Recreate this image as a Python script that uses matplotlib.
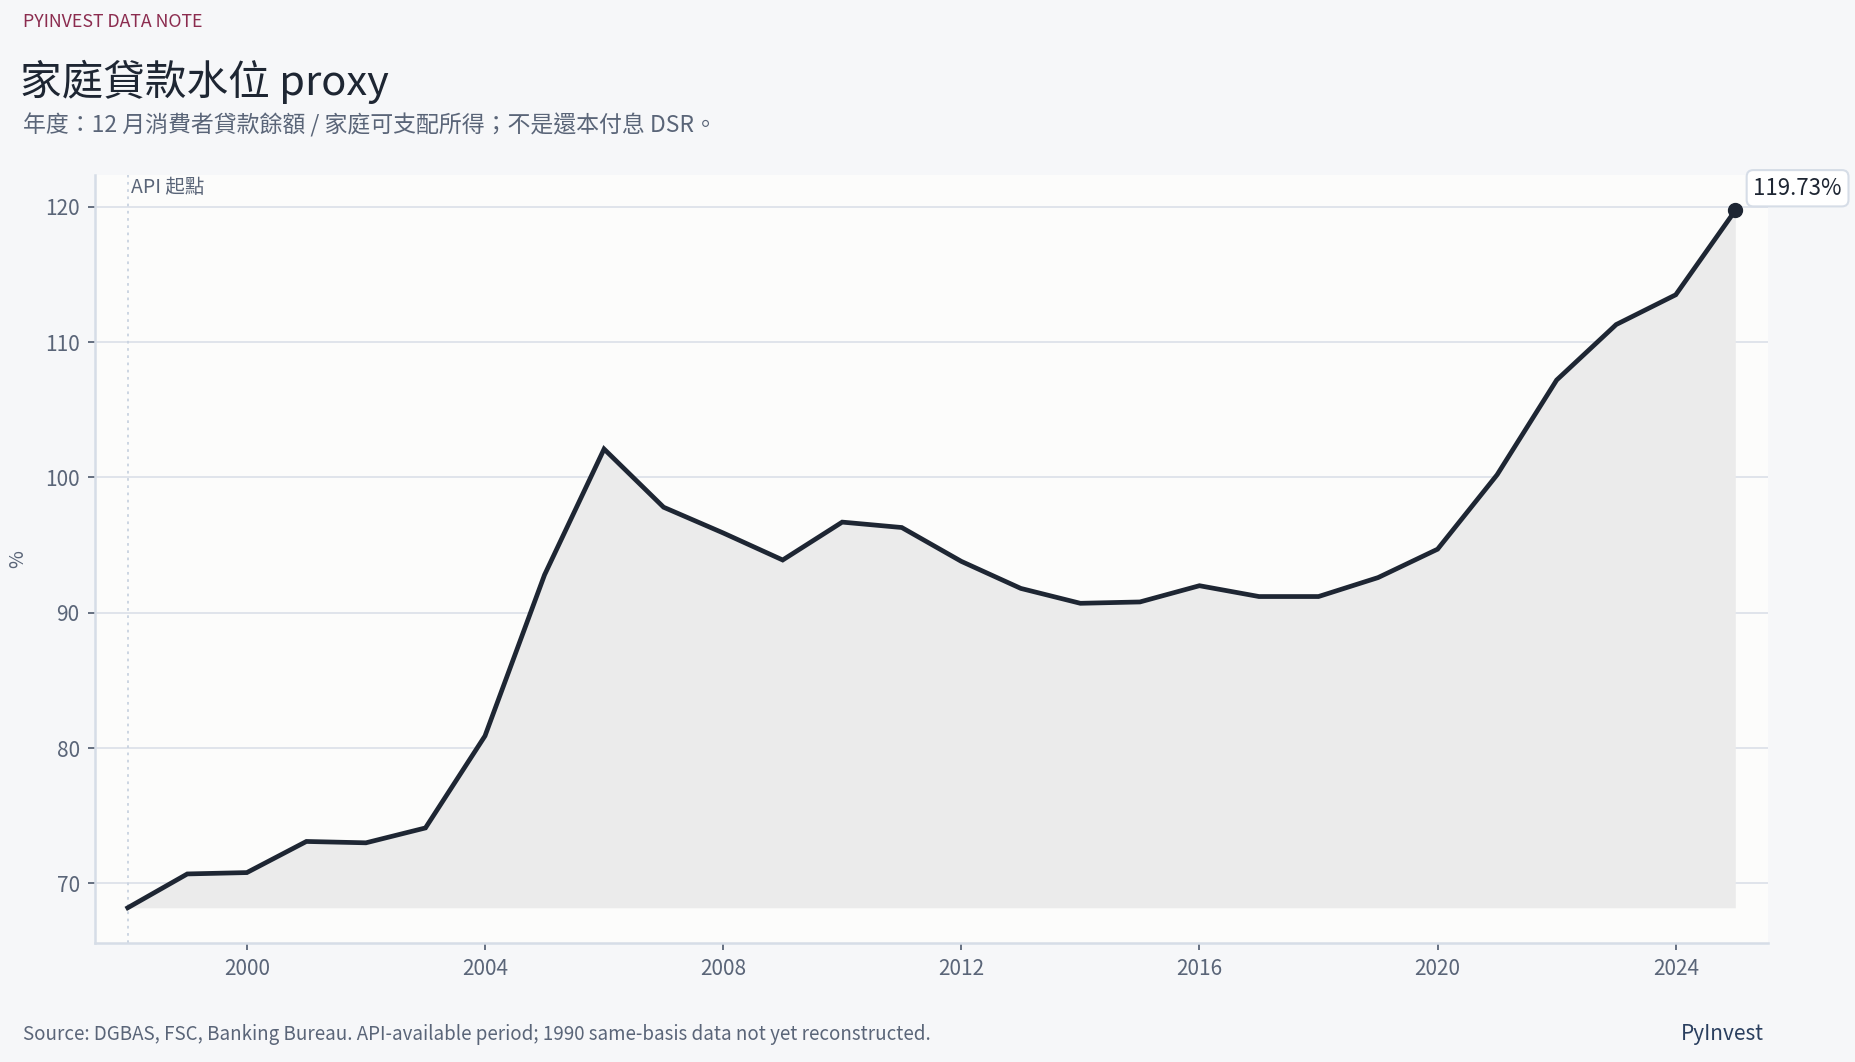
import matplotlib.pyplot as plt

plt.rcParams['font.family'] = ['Noto Sans CJK TC', 'DejaVu Sans']

# annual household loan level proxy (% of disposable income)
years = list(range(1998, 2026))
values = [68.2, 70.7, 70.8, 73.1, 73.0, 74.1, 80.9, 92.8, 102.1, 97.8,
          95.9, 93.9, 96.7, 96.3, 93.8, 91.8, 90.7, 90.8, 92.0, 91.2,
          91.2, 92.6, 94.7, 100.2, 107.2, 111.3, 113.5, 119.73]
xticks = [2000, 2004, 2008, 2012, 2016, 2020, 2024]
yticks = [70, 80, 90, 100, 110, 120]

BG = '#f6f7f9'
PANEL = '#fcfcfb'
INK = '#1e2633'
MUTED = '#5a6578'
RULE = '#d6dde7'

fig = plt.figure(figsize=(18.56, 10.62), dpi=100, facecolor=BG)
ax = fig.add_axes([0.0512, 0.1121, 0.9014, 0.7231])
ax.set_facecolor(PANEL)

ax.fill_between(years, values, min(values), color='#ebebeb', lw=0, zorder=1)
ax.plot(years, values, color=INK, lw=3.4, zorder=3, solid_joinstyle='miter')
ax.plot(years[-1], values[-1], 'o', color=INK, ms=10, zorder=4)

ax.axvline(years[0], color='#c9d3e0', lw=1.3, ls=(0, (1.5, 2.5)), zorder=2)
ax.text(years[0] + 0.06, 122.2, 'API 起點', color=MUTED, fontsize=14,
        va='top', ha='left')

ax.annotate(f'{values[-1]:.2f}%', (years[-1], values[-1]),
            xytext=(13, 16), textcoords='offset points', fontsize=16,
            color=INK, va='center', ha='left', annotation_clip=False,
            bbox=dict(boxstyle='round,pad=0.3', fc='white', ec=RULE, lw=1.5))

ax.set_xlim(1997.45, 2025.55)
ax.set_ylim(65.6, 122.35)
ax.set_xticks(xticks)
ax.set_yticks(yticks)
ax.grid(axis='y', color='#dde2ea', lw=1.3, zorder=0)
ax.set_axisbelow(True)
for s in ['top', 'right']:
    ax.spines[s].set_visible(False)
for s in ['left', 'bottom']:
    ax.spines[s].set_color(RULE)
    ax.spines[s].set_linewidth(1.8)
ax.tick_params(colors=MUTED, labelsize=15, length=5, width=1.3, pad=6)
ax.set_ylabel('%', color=MUTED, fontsize=14, labelpad=12)

fig.text(0.0124, 0.979, 'PYINVEST DATA NOTE', color='#8b2c4f', fontsize=12.8,
         va='center')
fig.text(0.011, 0.923, '家庭貸款水位 proxy', color=INK, fontsize=30,
         va='center')
fig.text(0.0124, 0.882, '年度：12 月消費者貸款餘額 / 家庭可支配所得；不是還本付息 DSR。',
         color=MUTED, fontsize=16.5, va='center')
fig.text(0.0124, 0.026,
         'Source: DGBAS, FSC, Banking Bureau. API-available period; 1990 same-basis data not yet reconstructed.',
         color=MUTED, fontsize=13.5, va='center')
fig.text(0.9505, 0.026, 'PyInvest', color='#2a3f5f', fontsize=15,
         va='center', ha='right')

fig.savefig('out.png', dpi=100, facecolor=BG)
